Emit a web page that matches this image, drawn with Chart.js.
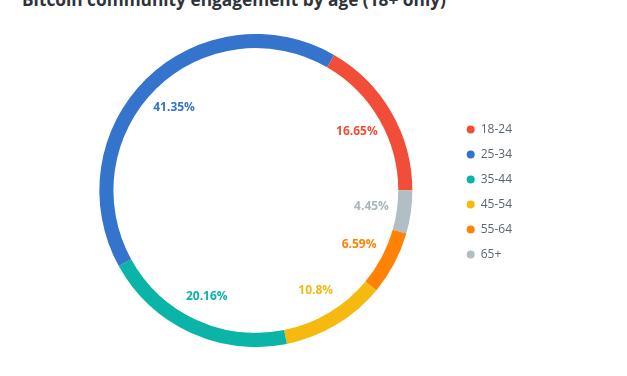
<!DOCTYPE html>
<html>
<head>
<meta charset="utf-8">
<script src="https://cdn.jsdelivr.net/npm/chart.js@4/dist/chart.umd.min.js"></script>
<style>
  html, body { margin: 0; padding: 0; background: #ffffff; width: 627px; height: 376px; overflow: hidden; }
  #wrap { position: relative; width: 627px; height: 376px; }
  #title { position: absolute; left: 22px; top: -14px; font-family: "Open Sans", sans-serif; font-weight: 700; font-size: 17.3px; line-height: 27px; color: #2e3339; white-space: nowrap; }
  canvas { position: absolute; left: 0; top: 0; }
</style>
</head>
<body>
<div id="wrap">
  <div id="title">Bitcoin community engagement by age (18+ only)</div>
  <canvas id="c" width="627" height="376"></canvas>
</div>
<script>
// Legend order
const categories = ["18-24", "25-34", "35-44", "45-54", "55-64", "65+"];
const shares = [16.65, 41.35, 20.16, 10.8, 6.59, 4.45];
const colors = ["#f14d38", "#3474cc", "#0ab4a6", "#f6b90f", "#ff8205", "#b1bec4"];
const labelColors = ["#f14d38", "#3474cc", "#0ab4a6", "#f6b90f", "#ff8205", "#a9b6bd"];
// Clockwise drawing order around the ring (indices into the arrays above)
const drawOrder = [0, 5, 4, 3, 2, 1];

const dLabels = drawOrder.map(i => categories[i]);
const dValues = drawOrder.map(i => shares[i]);
const dColors = drawOrder.map(i => colors[i]);
const dLabelColors = drawOrder.map(i => labelColors[i]);
const legendRank = drawOrder.map(i => i);

const valueLabels = {
  id: 'valueLabels',
  afterDatasetsDraw(chart) {
    const ctx = chart.ctx;
    const meta = chart.getDatasetMeta(0);
    ctx.save();
    ctx.font = '700 12px "Open Sans", sans-serif';
    ctx.textAlign = 'center';
    ctx.textBaseline = 'middle';
    meta.data.forEach((arc, i) => {
      const p = arc.getProps(['x', 'y', 'startAngle', 'endAngle', 'innerRadius'], true);
      const mid = (p.startAngle + p.endAngle) / 2;
      const r = p.innerRadius * 0.82;
      ctx.fillStyle = dLabelColors[i];
      ctx.fillText(dValues[i] + '%', p.x + Math.cos(mid) * r, p.y + Math.sin(mid) * r);
    });
    ctx.restore();
  }
};

new Chart(document.getElementById('c'), {
  type: 'doughnut',
  data: {
    labels: dLabels,
    datasets: [{
      data: dValues,
      backgroundColor: dColors,
      borderWidth: 0,
      hoverOffset: 0,
      offset: 0
    }]
  },
  options: {
    responsive: false,
    animation: false,
    devicePixelRatio: 1,
    rotation: 30,
    cutout: '91%',
    layout: { padding: { left: 58, right: 105, top: 34, bottom: 29 } },
    plugins: {
      title: { display: false },
      tooltip: { enabled: false },
      legend: {
        position: 'right',
        align: 'center',
        title: { display: true, text: '', padding: 1.5, font: { size: 0.01 } },
        labels: {
          boxWidth: 8,
          boxHeight: 8,
          useBorderRadius: true,
          borderRadius: 4,
          padding: 13,
          color: '#5c6670',
          font: { family: '"Open Sans", sans-serif', size: 12 },
          sort: (a, b) => legendRank[a.index] - legendRank[b.index]
        }
      }
    }
  },
  plugins: [valueLabels]
});
</script>
</body>
</html>
